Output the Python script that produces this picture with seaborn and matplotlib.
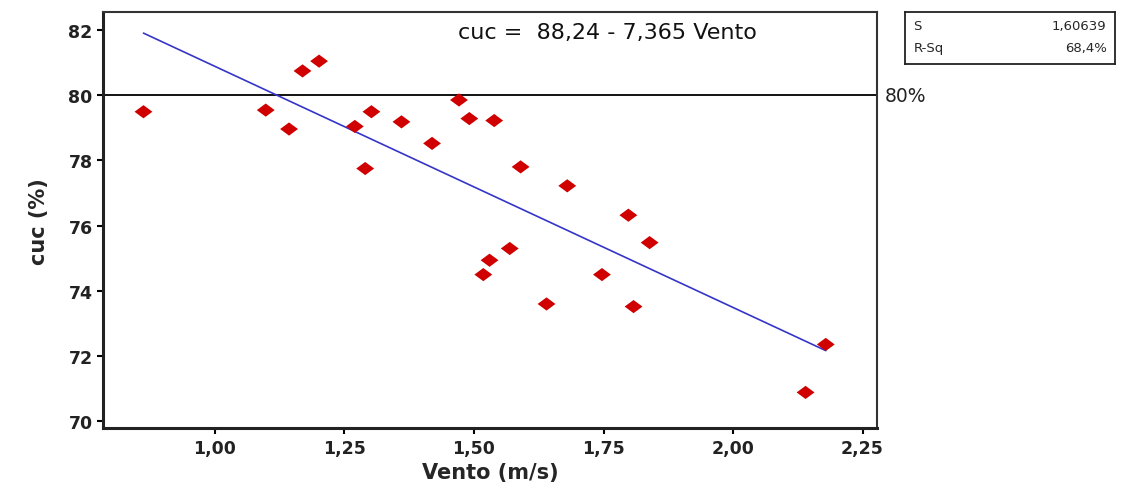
import matplotlib
matplotlib.use("Agg")
import matplotlib.pyplot as plt
import pandas as pd
import seaborn as sns

# valores
vento = [0.862, 1.098, 1.143, 1.169, 1.201, 1.270, 1.290, 1.302, 1.360, 1.419,
         1.471, 1.491, 1.539, 1.590, 1.680, 1.798, 1.839, 1.569, 1.530, 1.518,
         1.747, 1.640, 1.808, 2.179, 2.140]
cuc = [79.49, 79.54, 78.96, 80.74, 81.04, 79.04, 77.75, 79.49, 79.18, 78.52,
       79.85, 79.28, 79.22, 77.80, 77.22, 76.32, 75.48, 75.30, 74.94, 74.50,
       74.50, 73.60, 73.52, 72.36, 70.89]

x_ticks = [1.00, 1.25, 1.50, 1.75, 2.00, 2.25]
x_labels = ["1,00", "1,25", "1,50", "1,75", "2,00", "2,25"]
y_ticks = [70, 72, 74, 76, 78, 80, 82]
y_labels = ["70", "72", "74", "76", "78", "80", "82"]
ref_line = 80
stats = [("S", "1,60639"), ("R-Sq", "68,4%")]
equation = "cuc =  88,24 - 7,365 Vento"

df = pd.DataFrame({"Vento": vento, "cuc": cuc})

sns.set_style("white")
plt.rcParams["font.family"] = ["DejaVu Sans"]

fig = plt.figure(figsize=(11.25, 4.85), dpi=100)
ax = fig.add_axes([0.0916, 0.1148, 0.688, 0.858])

# losango um pouco achatado, como no original
diamond = [(-1.0, 0.0), (0.0, 0.74), (1.0, 0.0), (0.0, -0.74), (-1.0, 0.0)]

sns.regplot(
    data=df, x="Vento", y="cuc", ci=None, ax=ax,
    marker=diamond,
    scatter_kws={"s": 165, "color": "#d00000", "edgecolor": "none",
                 "alpha": 1, "zorder": 3},
    line_kws={"color": "#3535c8", "linewidth": 1.2, "zorder": 2},
)
ax.axhline(ref_line, color="black", linewidth=1.3, zorder=1)
ax.text(1.01, ref_line, "80%", transform=ax.get_yaxis_transform(),
        ha="left", va="center", fontsize=13.5, color="#222222")

ax.set_xlim(0.784, 2.278)
ax.set_ylim(69.79, 82.54)
ax.set_xticks(x_ticks, x_labels)
ax.set_yticks(y_ticks, y_labels)
ax.tick_params(axis="both", direction="out", length=4, width=1.5,
               labelsize=12.5, bottom=True, left=True, colors="black")
for lab in ax.get_xticklabels() + ax.get_yticklabels():
    lab.set_fontweight("bold")
    lab.set_color("#222222")

for side in ["left", "bottom"]:
    ax.spines[side].set_linewidth(2.2)
    ax.spines[side].set_color("#222222")
for side in ["top", "right"]:
    ax.spines[side].set_linewidth(1.5)
    ax.spines[side].set_color("#333333")

ax.set_xlabel("Vento (m/s)", fontsize=15, fontweight="bold", labelpad=4)
ax.set_ylabel("cuc (%)", fontsize=15, fontweight="bold", labelpad=14)

ax.text(0.652, 0.952, equation, transform=ax.transAxes, ha="center",
        va="center", fontsize=16, color="#111111")

# caixa de estatísticas
box = fig.add_axes([905 / 1125, 1 - 65 / 485, 210 / 1125, 52 / 485])
box.set_xticks([])
box.set_yticks([])
for sp in box.spines.values():
    sp.set_linewidth(1.3)
    sp.set_color("#222222")
for i, (k, v) in enumerate(stats):
    yy = 0.74 - i * 0.42
    box.text(0.04, yy, k, ha="left", va="center", fontsize=9.5)
    box.text(0.96, yy, v, ha="right", va="center", fontsize=9.5)

fig.savefig("out.png", dpi=100)
